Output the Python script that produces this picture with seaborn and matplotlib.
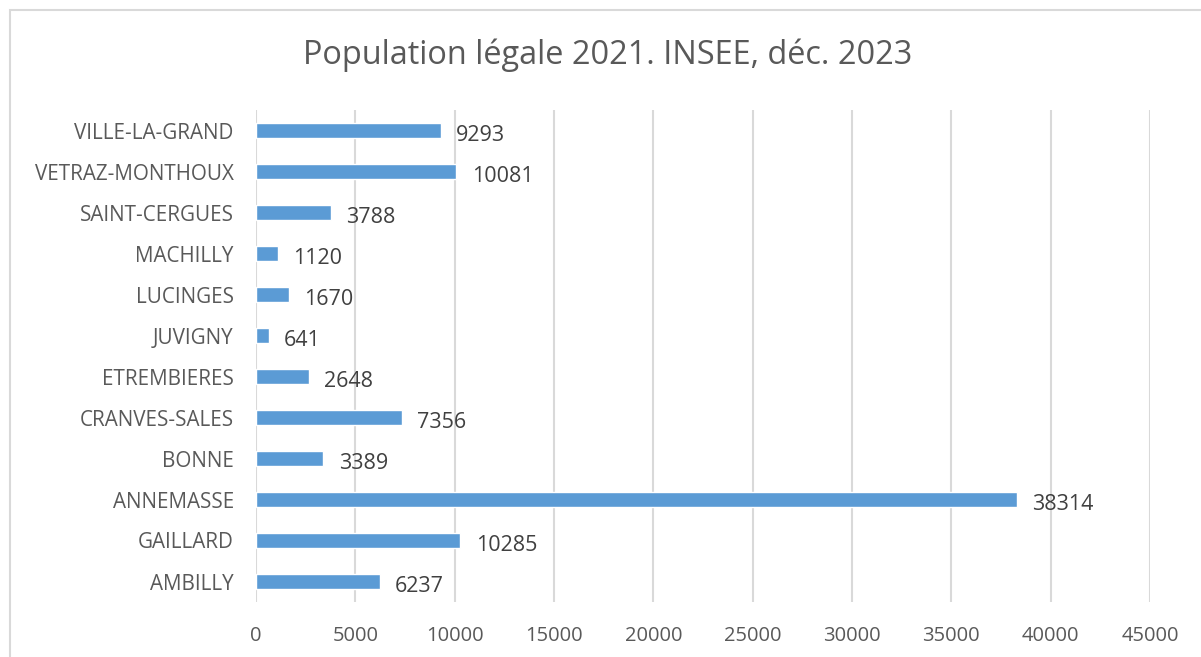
import matplotlib
matplotlib.use("Agg")
import matplotlib.pyplot as plt
import seaborn as sns
from matplotlib.patches import Rectangle

# data, top to bottom as in the chart
communes = ["VILLE-LA-GRAND", "VETRAZ-MONTHOUX", "SAINT-CERGUES", "MACHILLY",
            "LUCINGES", "JUVIGNY", "ETREMBIERES", "CRANVES-SALES", "BONNE",
            "ANNEMASSE", "GAILLARD", "AMBILLY"]
population = [9293, 10081, 3788, 1120, 1670, 641, 2648, 7356, 3389, 38314, 10285, 6237]
xticks = list(range(0, 45001, 5000))

sns.set_style("white")
plt.rcParams['font.family'] = ['Open Sans', 'DejaVu Sans']

fig = plt.figure(figsize=(12.01, 6.57), dpi=100)
ax = fig.add_axes([256 / 1201, 1 - 602 / 657, (1150 - 256) / 1201, (602 - 110) / 657])

sns.barplot(x=population, y=communes, orient="h", color="#5B9BD5",
            saturation=1, width=0.37, ax=ax)

ax.set_xlim(0, 45000)
ax.set_ylim(11.5, -0.5)
ax.set_xticks(xticks)
ax.set_xticklabels([str(t) for t in xticks])
ax.grid(axis="x", color="#D9D9D9", linewidth=1.5)
ax.set_axisbelow(True)
for s in ax.spines.values():
    s.set_visible(False)
ax.tick_params(axis="y", length=0, labelsize=14.9, labelcolor="#595959", pad=16)
ax.tick_params(axis="x", length=0, labelsize=14.5, labelcolor="#595959", pad=17)
ax.set_xlabel("")
ax.set_ylabel("")

# data labels, just right of the bar end and a bit below centre
for i, v in enumerate(population):
    ax.annotate(str(v), (v, i), xytext=(11, -3.5), textcoords="offset points",
                ha="left", va="center", fontsize=15.5, color="#404040")

fig.text(0.5 * (303 + 912) / 1201, 1 - 55 / 657, "Population légale 2021. INSEE, déc. 2023",
         ha="center", va="center", fontsize=23.4, color="#595959")

# chart area border
fig.patches.append(Rectangle((10 / 1201, -0.1), 1.2, 1 - 10 / 657 + 0.1,
                             transform=fig.transFigure, fill=False,
                             edgecolor="#D9D9D9", linewidth=1.5))

fig.savefig("out.png", dpi=100)
